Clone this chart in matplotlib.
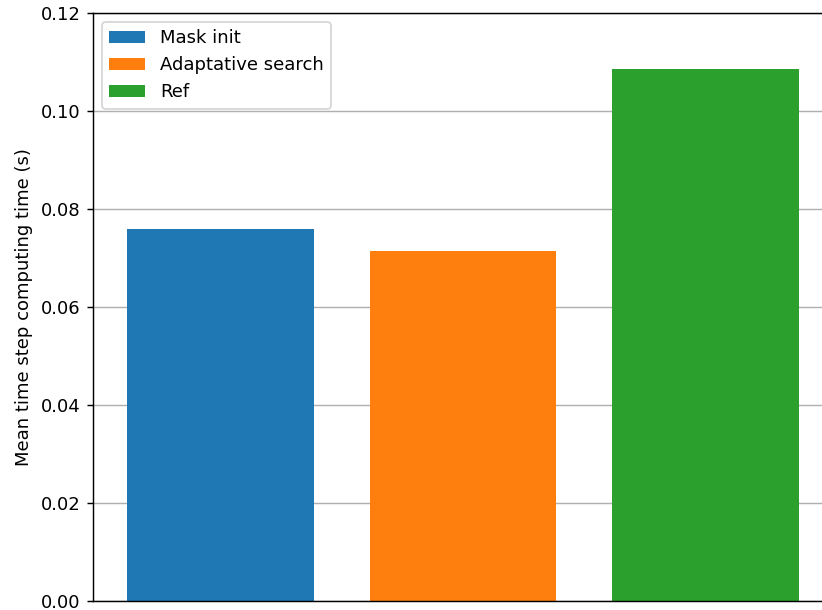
import matplotlib
matplotlib.use("Agg")
import matplotlib.pyplot as plt

labels = ["Mask init", "Adaptative search", "Ref"]
values = [0.0759, 0.0714, 0.1086]
colors = ["#1f77b4", "#ff7f0e", "#2ca02c"]

DPI = 130
fig = plt.figure(figsize=(822 / DPI, 610 / DPI), dpi=DPI)
# the reference is cropped: the right spine sits just outside the image
ax = fig.add_axes([93 / 822, 9 / 610, 740 / 822, 588 / 610])

for i, (lab, val, col) in enumerate(zip(labels, values, colors)):
    ax.bar(i, val, width=0.77, color=col, label=lab)

ax.set_xlim(-0.525, 2.525)
ax.set_ylim(0, 0.12)
ax.set_xticks([])
ax.set_ylabel("Mean time step computing time (s)")
ax.yaxis.grid(True)
ax.set_axisbelow(True)
ax.legend(loc="upper left")

fig.savefig("out.png", dpi=DPI)
